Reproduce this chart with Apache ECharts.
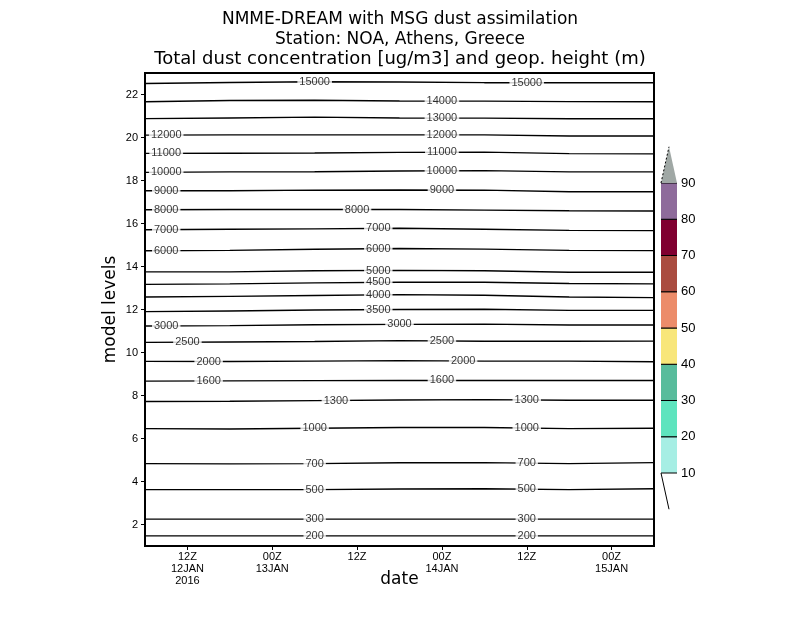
<!DOCTYPE html>
<html>
<head>
<meta charset="utf-8">
<script src="https://cdn.jsdelivr.net/npm/echarts@6/dist/echarts.min.js"></script>
<style>html,body{margin:0;padding:0;background:#fff}#c{width:800px;height:618px}</style>
</head>
<body>
<div id="c"></div>
<script>
// Sample times: hours after 06Z 12JAN2016
const sampleHours = [0, 12, 24, 36, 48, 60, 72];
// Geopotential height contour values (m)
const geopHeights = [15000, 14000, 13000, 12000, 11000, 10000, 9000, 8000, 7000, 6000, 5000, 4500, 4000, 3500, 3000, 2500, 2000, 1600, 1300, 1000, 700, 500, 300, 200];
// Model level of each contour at the sample times
const contourLevels = [
  [22.51, 22.56, 22.59, 22.58, 22.55, 22.55, 22.55],
  [21.66, 21.72, 21.73, 21.70, 21.69, 21.67, 21.66],
  [20.88, 20.91, 20.95, 20.91, 20.90, 20.87, 20.87],
  [20.11, 20.12, 20.12, 20.12, 20.12, 20.07, 20.07],
  [19.26, 19.27, 19.28, 19.31, 19.32, 19.25, 19.24],
  [18.38, 18.40, 18.41, 18.44, 18.46, 18.40, 18.40],
  [17.52, 17.52, 17.55, 17.56, 17.55, 17.48, 17.48],
  [16.64, 16.65, 16.65, 16.65, 16.62, 16.59, 16.58],
  [15.71, 15.73, 15.75, 15.78, 15.73, 15.68, 15.67],
  [14.73, 14.75, 14.80, 14.84, 14.81, 14.75, 14.74],
  [13.75, 13.75, 13.80, 13.82, 13.80, 13.73, 13.73],
  [13.17, 13.19, 13.24, 13.27, 13.27, 13.21, 13.19],
  [12.58, 12.61, 12.65, 12.69, 12.66, 12.58, 12.55],
  [11.90, 11.93, 11.98, 12.00, 12.01, 11.96, 11.96],
  [11.23, 11.25, 11.29, 11.31, 11.32, 11.28, 11.28],
  [10.47, 10.49, 10.51, 10.55, 10.52, 10.52, 10.53],
  [9.585, 9.58, 9.60, 9.62, 9.60, 9.60, 9.57],
  [8.67, 8.68, 8.69, 8.70, 8.70, 8.70, 8.70],
  [7.72, 7.73, 7.76, 7.79, 7.81, 7.78, 7.78],
  [6.46, 6.44, 6.48, 6.51, 6.51, 6.46, 6.48],
  [4.83, 4.82, 4.83, 4.87, 4.88, 4.83, 4.88],
  [3.62, 3.62, 3.62, 3.65, 3.66, 3.62, 3.66],
  [2.25, 2.25, 2.25, 2.25, 2.25, 2.25, 2.25],
  [1.47, 1.47, 1.47, 1.47, 1.47, 1.47, 1.47]
];
// Hours where each contour carries its label
const labelHours = [
  [24, 54], [42], [42], [3, 42], [3, 42], [3, 42], [3, 42], [3, 30], [3, 33], [3, 33],
  [33], [33], [33], [33], [3, 36], [6, 42], [9, 45], [9, 42], [27, 54],
  [24, 54], [24, 54], [24, 54], [24, 54], [24, 54]
];
// Axis ticks
const xTickHours = [6, 18, 30, 42, 54, 66];
const xTickLabels = ['12Z\n12JAN\n2016', '00Z\n13JAN', '12Z', '00Z\n14JAN', '12Z', '00Z\n15JAN'];
const yTickLevels = [2, 4, 6, 8, 10, 12, 14, 16, 18, 20, 22];
// Colour bar
const shadeBreaks = [10, 20, 30, 40, 50, 60, 70, 80, 90];
const shadeColors = ['#a6eee4', '#5ee4be', '#58bc9c', '#f8e67a', '#ec8c6a', '#aa4c40', '#800030', '#8e6b9b'];
const overColor = '#a0a8a5';
// Titles
const titleLines = [
  'NMME-DREAM with MSG dust assimilation',
  'Station: NOA, Athens, Greece',
  'Total dust concentration [ug/m3] and geop. height (m)'
];
const titleSizes = [17, 17, 18];
const titleTops = [11, 31, 50];

const FONT = 'Liberation Sans';

function levelAtHour(levels, h) {
  for (let i = 0; i < sampleHours.length - 1; i++) {
    const a = sampleHours[i], b = sampleHours[i + 1];
    if (h >= a && h <= b) {
      const t = (h - a) / (b - a);
      return levels[i] + t * (levels[i + 1] - levels[i]);
    }
  }
  return levels[levels.length - 1];
}

const series = [];
geopHeights.forEach((g, k) => {
  series.push({
    type: 'line', xAxisIndex: 0, yAxisIndex: 0,
    data: sampleHours.map((h, i) => [h, contourLevels[k][i]]),
    symbol: 'none', silent: true,
    lineStyle: { color: '#000', width: 1.4 },
    z: 2
  });
});
const labelData = [];
geopHeights.forEach((g, k) => {
  labelHours[k].forEach(h => labelData.push([h, levelAtHour(contourLevels[k], h), String(g)]));
});
series.push({
  type: 'scatter', xAxisIndex: 0, yAxisIndex: 0,
  data: labelData, symbolSize: 0, silent: true, z: 5,
  label: {
    show: true, position: 'inside', formatter: p => p.data[2],
    color: '#000', fontFamily: FONT, fontSize: 11,
    backgroundColor: '#fff', padding: [0, 2]
  }
});

// colour bar pieces
const barData = shadeColors.map((c, i) => [shadeBreaks[i], shadeBreaks[i + 1], i]);
series.push({
  type: 'custom', xAxisIndex: 1, yAxisIndex: 1, silent: true,
  data: barData,
  renderItem: (params, api) => {
    const lo = api.value(0), hi = api.value(1), idx = api.value(2);
    const p1 = api.coord([0, hi]), p2 = api.coord([1, lo]);
    return {
      type: 'group', children: [
        { type: 'rect', shape: { x: p1[0], y: p1[1], width: p2[0] - p1[0], height: p2[1] - p1[1] }, style: { fill: shadeColors[idx] } },
        { type: 'line', shape: { x1: p1[0], y1: p1[1], x2: p2[0], y2: p1[1] }, style: { stroke: '#000', lineWidth: 1 } },
        { type: 'line', shape: { x1: p1[0], y1: p2[1], x2: p2[0], y2: p2[1] }, style: { stroke: '#000', lineWidth: 1 } }
      ]
    };
  }
});
series.push({
  type: 'custom', xAxisIndex: 1, yAxisIndex: 1, silent: true,
  data: [[0]],
  renderItem: (params, api) => {
    const top = shadeBreaks[shadeBreaks.length - 1], bot = shadeBreaks[0];
    const a = api.coord([0, top]), b = api.coord([0.5, top + 10]), c = api.coord([1, top]);
    const d = api.coord([0, bot]), e = api.coord([0.5, bot - 10]);
    return {
      type: 'group', children: [
        { type: 'polygon', shape: { points: [a, b, c] }, style: { fill: overColor } },
        { type: 'line', shape: { x1: a[0], y1: a[1], x2: b[0], y2: b[1] }, style: { stroke: '#000', lineWidth: 1, lineDash: [2, 2] } },
        { type: 'line', shape: { x1: d[0], y1: d[1], x2: e[0], y2: e[1] }, style: { stroke: '#000', lineWidth: 1 } }
      ]
    };
  }
});

const chart = echarts.init(document.getElementById('c'), null, { renderer: 'canvas' });
chart.setOption({
  animation: false,
  backgroundColor: '#fff',
  title: titleLines.map((t, i) => ({
    text: t, left: 'center', top: titleTops[i], padding: 0,
    textStyle: { fontFamily: 'DejaVu Sans', fontSize: titleSizes[i], fontWeight: 'normal', color: '#000' }
  })),
  grid: [
    { left: 145, top: 73, width: 509, height: 473, show: true, borderColor: '#000', borderWidth: 2, backgroundColor: 'transparent' },
    { left: 661, top: 146.75, width: 16, height: 362.5 }
  ],
  xAxis: [
    {
      gridIndex: 0, type: 'value', min: 0, max: 72,
      name: 'date', nameLocation: 'middle', nameGap: 25, nameMoveOverlap: false,
      nameTextStyle: { fontFamily: 'DejaVu Sans', fontSize: 17, color: '#000', verticalAlign: 'top' },
      axisLine: { show: true, lineStyle: { color: '#000', width: 2 } },
      axisTick: { show: true, length: 4, customValues: xTickHours, lineStyle: { color: '#000' } },
      axisLabel: {
        customValues: xTickHours, margin: 5,
        formatter: v => xTickLabels[xTickHours.indexOf(v)] || '',
        fontFamily: FONT, fontSize: 11, color: '#000', lineHeight: 12
      },
      splitLine: { show: false }
    },
    { gridIndex: 1, type: 'value', min: 0, max: 1, show: false }
  ],
  yAxis: [
    {
      gridIndex: 0, type: 'value', min: 1, max: 23,
      name: 'model levels', nameLocation: 'middle', nameGap: 26, nameRotate: 90, nameMoveOverlap: false,
      nameTextStyle: { fontFamily: 'DejaVu Sans', fontSize: 17, color: '#000' },
      axisLine: { show: true, lineStyle: { color: '#000', width: 2 } },
      axisTick: { show: true, length: 4, customValues: yTickLevels, lineStyle: { color: '#000' } },
      axisLabel: { customValues: yTickLevels, margin: 7, fontFamily: FONT, fontSize: 11, color: '#000' },
      splitLine: { show: false }
    },
    {
      gridIndex: 1, type: 'value', min: 0, max: 100, position: 'right',
      axisLine: { show: false }, axisTick: { show: false }, splitLine: { show: false },
      axisLabel: { customValues: shadeBreaks, margin: 4, fontFamily: FONT, fontSize: 13, color: '#000' }
    }
  ],
  series: series
});
</script>
</body>
</html>
